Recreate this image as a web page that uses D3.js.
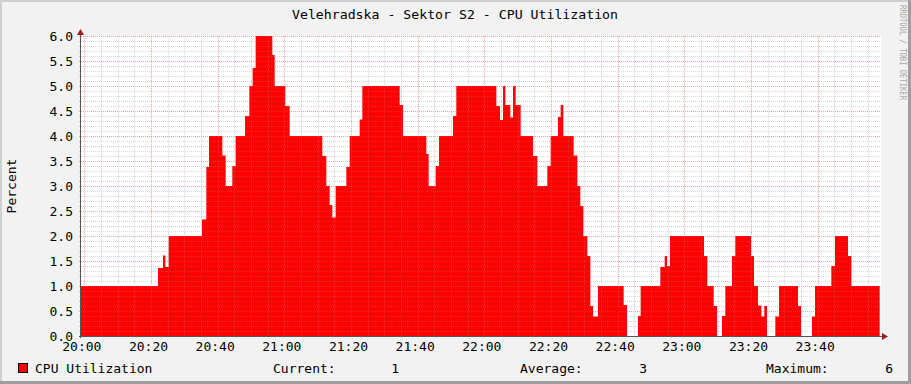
<!DOCTYPE html>
<html>
<head>
<meta charset="utf-8">
<script src="https://cdn.jsdelivr.net/npm/d3@7/dist/d3.min.js"></script>
<style>
  html, body { margin: 0; padding: 0; background: #f2f2f2; }
  svg { display: block; }
  text { font-family: "DejaVu Sans Mono", monospace; }
</style>
</head>
<body>
<svg id="chart" width="911" height="384"></svg>
<script>
// ---- data (minutes after 20:00 where the value changes, and the value) ----
const changeMinutes = [
  -1.0, 22.1, 23.6, 24.3, 25.3, 35.3, 36.6, 37.4, 41.4, 42.4, 44.4, 45.4, 48.2, 49.5, 50.5, 51.4,
  56.4, 57.1, 60.3, 61.6, 71.4, 72.6, 73.6, 74.4, 75.4, 78.6, 79.6, 82.6, 83.4, 94.6, 95.6,
  102.6, 103.3, 105.4, 106.4, 110.6, 111.6, 123.6, 124.7, 125.6, 126.3, 127.8, 128.6, 129.4,
  130.9, 134.6, 135.9, 138.9, 139.9, 142.1, 142.9, 143.7, 146.8, 147.9, 148.8, 149.7, 150.9,
  151.8, 152.6, 154.1, 161.8, 162.8, 166.1, 166.9, 172.8, 174.1, 174.8, 175.7, 185.9, 186.9,
  188.8, 189.8, 191.3, 192.3, 194.3, 195.3, 200.0, 200.9, 202.1, 203.1, 204.0, 204.8, 207.3,
  208.4, 214.1, 215.0, 218.3, 219.2, 224.1, 225.2, 229.1, 230.1, 238.6
];
const cpuValues = [
  1.0, 1.36, 1.61, 1.38, 2.0, 2.33, 3.38, 4.0, 3.61, 3.0, 3.4, 4.0, 4.4, 5.0, 5.36, 6.0,
  5.62, 5.0, 4.6, 4.0, 3.6, 3.0, 2.62, 2.37, 3.0, 3.38, 4.0, 4.33, 5.0, 4.62, 4.0,
  3.64, 3.0, 3.4, 4.0, 4.4, 5.0, 4.6, 4.32, 5.0, 4.62, 4.37, 5.0, 4.62,
  4.0, 3.6, 3.0, 3.4, 4.0, 4.38, 4.62, 4.0, 3.61, 3.0, 2.6, 2.0, 1.6,
  0.6, 0.39, 1.0, 0.62, 0, 0.4, 1.0, 1.38, 1.6, 1.4, 2.0, 1.6, 1.0,
  0.6, 0, 0.4, 1.0, 1.6, 2.0, 1.6, 1.0, 0.61, 0.39, 0.6, 0, 0.39,
  1.0, 0.6, 0, 0.39, 1.0, 1.4, 2.0, 1.6, 1.0, 1.0
];
const xTickMinutes = [0, 20, 40, 60, 80, 100, 120, 140, 160, 180, 200, 220];
const xTickLabels = ["20:00", "20:20", "20:40", "21:00", "21:20", "21:40", "22:00", "22:20", "22:40", "23:00", "23:20", "23:40"];
const yTickValues = [0, 0.5, 1, 1.5, 2, 2.5, 3, 3.5, 4, 4.5, 5, 5.5, 6];
const yTickLabels = ["0.0", "0.5", "1.0", "1.5", "2.0", "2.5", "3.0", "3.5", "4.0", "4.5", "5.0", "5.5", "6.0"];
const titleText = "Velehradska - Sektor S2 - CPU Utilization";
const yAxisTitle = "Percent";
const seriesName = "CPU Utilization";
const legendStats = [["Current:", "1"], ["Average:", "3"], ["Maximum:", "6"]];

// ---- layout ----
const W = 911, H = 384;
const pL = 81, pR = 881, pT = 36, pB = 336;

const svg = d3.select("#chart");

// background with 3D border
svg.append("rect").attr("x", 0).attr("y", 0).attr("width", W).attr("height", H).attr("fill", "#f2f2f2");
svg.append("rect").attr("x", 0).attr("y", 0).attr("width", W).attr("height", 2).attr("fill", "#cfcfcf");
svg.append("rect").attr("x", 0).attr("y", 0).attr("width", 2).attr("height", H).attr("fill", "#cfcfcf");
svg.append("rect").attr("x", W - 3).attr("y", 0).attr("width", 3).attr("height", H).attr("fill", "#9e9e9e");
svg.append("rect").attr("x", 0).attr("y", H - 3).attr("width", W).attr("height", 3).attr("fill", "#9e9e9e");

const x = d3.scaleLinear().domain([-1, 239]).range([pL, pR]);
const y = d3.scaleLinear().domain([0, 6]).range([pB, pT]);

// canvas
svg.append("rect").attr("x", pL).attr("y", pT).attr("width", pR - pL).attr("height", pB - pT).attr("fill", "#ffffff");

// area
const pts = changeMinutes.map((m, i) => [m, cpuValues[i]]);
const area = d3.area()
  .x(d => x(d[0]))
  .y0(y(0))
  .y1(d => y(d[1]))
  .curve(d3.curveStepAfter);
svg.append("path").datum(pts).attr("d", area).attr("fill", "#ff0000");

// grid
const grid = svg.append("g");
const minorY = d3.range(0, 61).map(i => i / 10).filter(v => Math.round(v * 10) % 5 !== 0);
const minorX = d3.range(0, 240, 5).filter(m => m % 20 !== 0);
grid.selectAll(".gy").data(minorY).enter().append("line")
  .attr("x1", pL - 2).attr("x2", pR)
  .attr("y1", d => Math.round(y(d)) + 0.5).attr("y2", d => Math.round(y(d)) + 0.5)
  .attr("stroke", "rgba(140,140,140,0.35)").attr("stroke-dasharray", "1,1");
grid.selectAll(".gx").data(minorX).enter().append("line")
  .attr("y1", pT).attr("y2", pB + 2)
  .attr("x1", d => Math.round(x(d)) + 0.5).attr("x2", d => Math.round(x(d)) + 0.5)
  .attr("stroke", "rgba(140,140,140,0.35)").attr("stroke-dasharray", "1,1");
grid.selectAll(".my").data(yTickValues.filter(v => v > 0)).enter().append("line")
  .attr("x1", pL - 2).attr("x2", pR)
  .attr("y1", d => Math.round(y(d)) + 0.5).attr("y2", d => Math.round(y(d)) + 0.5)
  .attr("stroke", "rgba(222,80,80,0.5)").attr("stroke-dasharray", "1,1");
grid.selectAll(".mx").data(xTickMinutes).enter().append("line")
  .attr("y1", pT).attr("y2", pB + 2)
  .attr("x1", d => Math.round(x(d)) + 0.5).attr("x2", d => Math.round(x(d)) + 0.5)
  .attr("stroke", "rgba(222,80,80,0.5)").attr("stroke-dasharray", "1,1");

// axes lines
svg.append("line").attr("x1", pL - 0.5).attr("x2", pL - 0.5).attr("y1", pT - 3).attr("y2", pB + 2)
  .attr("stroke", "#555555").attr("stroke-width", 1);
svg.append("line").attr("x1", pL - 2).attr("x2", pR + 3).attr("y1", pB + 0.5).attr("y2", pB + 0.5)
  .attr("stroke", "#555555").attr("stroke-width", 1);
// arrows
svg.append("path").attr("d", `M${pL - 4},${pT - 1} L${pL + 3},${pT - 1} L${pL - 0.5},${pT - 7} Z`).attr("fill", "#a01818");
svg.append("path").attr("d", `M${pR + 1},${pB - 3} L${pR + 1},${pB + 4} L${pR + 7},${pB + 0.5} Z`).attr("fill", "#a01818");

// y tick labels via axis
const yAxis = d3.axisLeft(y).tickValues(yTickValues).tickFormat((d, i) => yTickLabels[i]).tickSize(0).tickPadding(0);
const yG = svg.append("g").attr("transform", `translate(${pL - 8},0)`).call(yAxis);
yG.select(".domain").remove();
yG.selectAll("text").attr("font-size", 13).attr("fill", "#000").attr("font-family", "DejaVu Sans Mono").attr("dy", "0.35em");

// x tick labels via axis
const xAxis = d3.axisBottom(x).tickValues(xTickMinutes).tickFormat((d, i) => xTickLabels[i]).tickSize(0).tickPadding(0);
const xG = svg.append("g").attr("transform", `translate(-3,${pB + 6})`).call(xAxis);
xG.select(".domain").remove();
xG.selectAll("text").attr("font-size", 13).attr("fill", "#000").attr("font-family", "DejaVu Sans Mono").attr("dy", "0.71em");

// title
svg.append("text").attr("x", 455).attr("y", 19).attr("text-anchor", "middle")
  .attr("font-size", 13).attr("fill", "#000")
  .attr("textLength", 326).attr("lengthAdjust", "spacingAndGlyphs").text(titleText);

// y axis title
svg.append("text").attr("transform", "translate(16,186) rotate(-90)").attr("text-anchor", "middle")
  .attr("font-size", 13).attr("fill", "#000").text(yAxisTitle);

// watermark
svg.append("text").attr("transform", "translate(900,5) rotate(90)").attr("text-anchor", "start")
  .attr("font-size", 8).attr("fill", "#a8a8a8")
  .attr("textLength", 95).attr("lengthAdjust", "spacingAndGlyphs").text("RRDTOOL / TOBI OETIKER");

// legend
svg.append("rect").attr("x", 18.5).attr("y", 363.5).attr("width", 9).attr("height", 9)
  .attr("fill", "#ff0000").attr("stroke", "#000").attr("stroke-width", 1);
svg.append("text").attr("x", 35).attr("y", 373).attr("font-size", 13).attr("fill", "#000").text(seriesName);
const statLabelX = [273, 520, 766];
const statValueX = [399, 647, 893];
legendStats.forEach((s, i) => {
  svg.append("text").attr("x", statLabelX[i]).attr("y", 373).attr("font-size", 13).attr("fill", "#000").text(s[0]);
  svg.append("text").attr("x", statValueX[i]).attr("y", 373).attr("text-anchor", "end").attr("font-size", 13).attr("fill", "#000").text(s[1]);
});
</script>
</body>
</html>
